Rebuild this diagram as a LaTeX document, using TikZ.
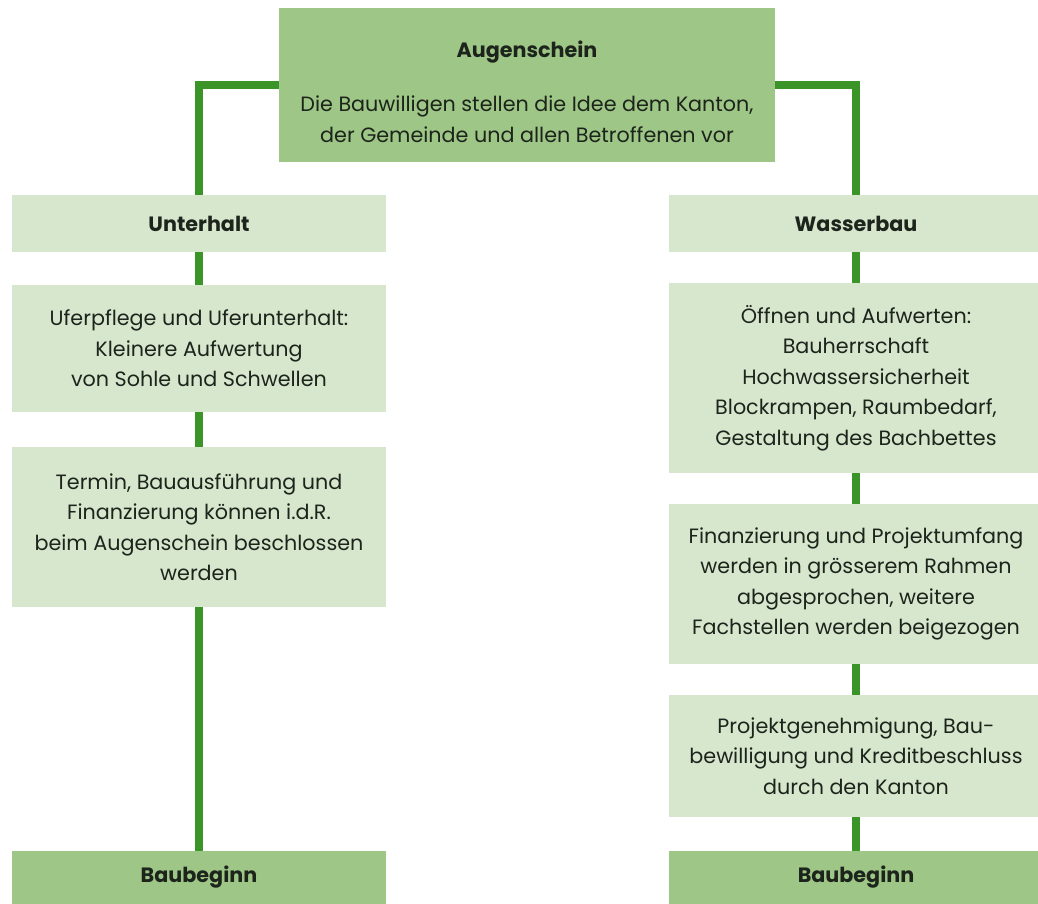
\documentclass[tikz,border=0pt]{standalone}
\usepackage{fontspec}
\setmainfont{Poppins}
\definecolor{boxdark}{RGB}{158,198,134}
\definecolor{boxlight}{RGB}{215,231,205}
\definecolor{linkgreen}{RGB}{58,148,40}
\definecolor{txt}{RGB}{28,36,28}

\begin{document}
\begin{tikzpicture}[
  x=1pt, y=-1pt,
  font=\fontsize{20.7}{30.5}\selectfont,
  stage/.style={fill=boxlight, text=txt, align=center, inner sep=0pt, minimum width=374pt},
  keystage/.style={stage, fill=boxdark},
  title/.style={font=\fontsize{20.7}{30.5}\selectfont\bfseries},
  link/.style={draw=linkgreen, line width=8pt}
]
\useasboundingbox (0,0) rectangle (1038,904);

% Start.
\node[keystage, minimum width=496pt, minimum height=154pt] (aug) at (527,85)
  {\rule{0pt}{30pt}{\bfseries Augenschein}\\[24pt]Die Bauwilligen stellen die Idee dem Kanton,\\der Gemeinde und allen Betroffenen vor};

% Left column: Unterhalt.
\node[stage, minimum height=57pt, title] (unt) at (199,223.5) {Unterhalt};
\node[stage, minimum height=127pt] (ufer) at (199,348.5)
  {Uferpflege und Uferunterhalt:\\Kleinere Aufwertung\\von Sohle und Schwellen};
\node[stage, minimum height=160pt] (termin) at (199,527)
  {Termin, Bauausführung und\\Finanzierung können i.d.R.\\beim Augenschein beschlossen\\werden};
\node[keystage, minimum height=53pt, title] (bauL) at (199,877.5) {Baubeginn};

% Right column: Wasserbau.
\node[stage, minimum height=57pt, title] (wbau) at (856,223.5) {Wasserbau};
\node[stage, minimum height=190pt] (oeff) at (856,378)
  {Öffnen und Aufwerten:\\Bauherrschaft\\Hochwassersicherheit\\Blockrampen, Raumbedarf,\\Gestaltung des Bachbettes};
\node[stage, minimum height=160pt] (fin) at (856,584)
  {Finanzierung und Projektumfang\\werden in grösserem Rahmen\\abgesprochen, weitere\\Fachstellen werden beigezogen};
\node[stage, minimum height=122pt] (proj) at (856,756)
  {Projektgenehmigung, Bau-\\bewilligung und Kreditbeschluss\\durch den Kanton};
\node[keystage, minimum height=53pt, title] (bauR) at (856,877.5) {Baubeginn};

% Connectors.
\draw[link] (aug.west) -| (unt.north);
\draw[link] (aug.east) -| (wbau.north);
\draw[link] (unt) -- (ufer);
\draw[link] (ufer) -- (termin);
\draw[link] (termin) -- (bauL);
\draw[link] (wbau) -- (oeff);
\draw[link] (oeff) -- (fin);
\draw[link] (fin) -- (proj);
\draw[link] (proj) -- (bauR);

\end{tikzpicture}
\end{document}
